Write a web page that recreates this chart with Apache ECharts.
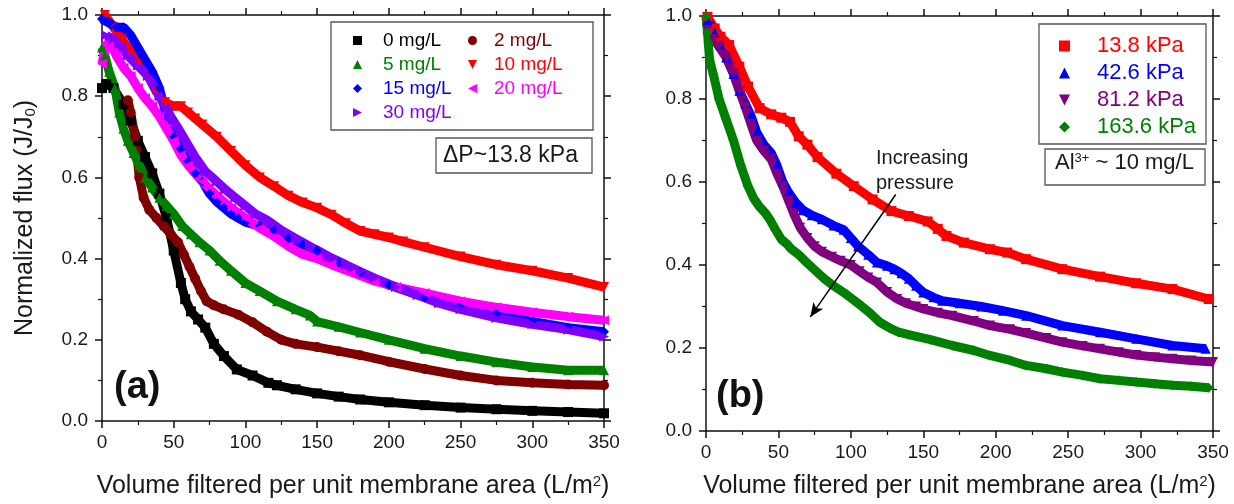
<!DOCTYPE html>
<html>
<head>
<meta charset="utf-8">
<script src="https://cdn.jsdelivr.net/npm/echarts@6/dist/echarts.min.js"></script>
<style>
  html, body { margin: 0; padding: 0; background: #ffffff; }
  #chart { width: 1234px; height: 504px; }
</style>
</head>
<body>
<div id="chart"></div>
<script>
// ---- Panel (a): flux decline at ΔP ~ 13.8 kPa for several Al3+ doses ----
const conc0_x  = [0, 3, 8, 15, 20, 25, 30, 35, 40, 45, 50, 55, 58, 62, 67, 72, 78, 85, 94, 105, 116, 122, 135, 150, 165, 180, 200, 225, 250, 275, 300, 325, 350];
const conc0_y  = [0.82, 0.83, 0.82, 0.78, 0.74, 0.69, 0.65, 0.61, 0.56, 0.5, 0.42, 0.34, 0.3, 0.27, 0.25, 0.23, 0.19, 0.16, 0.127, 0.112, 0.094, 0.088, 0.078, 0.068, 0.06, 0.053, 0.046, 0.039, 0.033, 0.029, 0.025, 0.022, 0.019];

const conc2_x  = [18, 20, 23, 26, 29, 33, 38, 43, 48, 53, 57, 61, 65, 69, 73, 78, 85, 95, 105, 115, 125, 135, 150, 165, 180, 200, 225, 250, 275, 300, 325, 350];
const conc2_y  = [0.79, 0.76, 0.7, 0.6, 0.55, 0.52, 0.5, 0.48, 0.46, 0.44, 0.41, 0.38, 0.35, 0.32, 0.295, 0.285, 0.275, 0.262, 0.243, 0.22, 0.2, 0.19, 0.182, 0.172, 0.162, 0.146, 0.128, 0.112, 0.1, 0.094, 0.09, 0.088];

const conc5_x  = [0, 2, 5, 9, 12, 15, 18, 22, 26, 30, 35, 40, 45, 50, 56, 62, 68, 75, 82, 90, 100, 110, 122, 135, 145, 150, 165, 180, 200, 225, 250, 275, 300, 325, 350];
const conc5_y  = [0.92, 0.9, 0.86, 0.82, 0.76, 0.72, 0.69, 0.66, 0.63, 0.6, 0.575, 0.55, 0.53, 0.51, 0.48, 0.46, 0.44, 0.42, 0.395, 0.37, 0.34, 0.32, 0.295, 0.275, 0.26, 0.245, 0.232, 0.218, 0.2, 0.178, 0.16, 0.145, 0.133, 0.125, 0.125];

const conc10_x = [2, 8, 14, 20, 26, 32, 38, 44, 50, 55, 60, 65, 70, 80, 90, 100, 110, 120, 130, 140, 150, 160, 170, 180, 190, 200, 210, 225, 250, 275, 300, 325, 350];
const conc10_y = [1.0, 0.97, 0.94, 0.91, 0.88, 0.85, 0.81, 0.785, 0.775, 0.775, 0.76, 0.745, 0.73, 0.7, 0.665, 0.63, 0.6, 0.578, 0.555, 0.538, 0.525, 0.508, 0.487, 0.468, 0.46, 0.452, 0.442, 0.428, 0.405, 0.385, 0.37, 0.352, 0.33];

const conc15_x = [0, 5, 10, 15, 20, 25, 30, 35, 40, 45, 50, 55, 60, 65, 70, 75, 80, 85, 90, 95, 100, 110, 120, 130, 140, 150, 165, 180, 200, 225, 250, 275, 300, 325, 350];
const conc15_y = [0.99, 0.98, 0.97, 0.97, 0.95, 0.92, 0.89, 0.86, 0.82, 0.75, 0.7, 0.67, 0.64, 0.61, 0.59, 0.56, 0.54, 0.525, 0.51, 0.5, 0.49, 0.48, 0.47, 0.45, 0.435, 0.42, 0.39, 0.365, 0.335, 0.305, 0.285, 0.265, 0.245, 0.23, 0.22];

const conc20_x = [0, 3, 6, 10, 15, 20, 25, 30, 35, 40, 45, 50, 55, 60, 70, 80, 90, 100, 110, 120, 130, 140, 150, 160, 175, 190, 205, 225, 250, 275, 300, 325, 350];
const conc20_y = [0.88, 0.93, 0.93, 0.9, 0.87, 0.85, 0.82, 0.795, 0.775, 0.75, 0.72, 0.69, 0.655, 0.63, 0.59, 0.555, 0.525, 0.5, 0.475, 0.455, 0.43, 0.41, 0.4, 0.385, 0.365, 0.345, 0.33, 0.315, 0.295, 0.28, 0.268, 0.257, 0.248];

const conc30_x = [3, 8, 12, 18, 25, 32, 40, 48, 55, 60, 65, 72, 80, 86, 93, 100, 107, 115, 125, 135, 145, 158, 170, 180, 190, 205, 220, 235, 250, 275, 300, 325, 350];
const conc30_y = [0.95, 0.94, 0.93, 0.9, 0.875, 0.85, 0.8, 0.75, 0.71, 0.68, 0.65, 0.615, 0.59, 0.57, 0.55, 0.53, 0.51, 0.495, 0.47, 0.45, 0.43, 0.405, 0.385, 0.368, 0.352, 0.33, 0.31, 0.29, 0.275, 0.254, 0.238, 0.225, 0.208];

// ---- Panel (b): flux decline at Al3+ ~ 10 mg/L for several pressures ----
const p138_x  = [1, 6, 10, 16, 23, 29, 37, 45, 52, 58, 64, 70, 77, 90, 102, 115, 128, 140, 153, 160, 166, 178, 196, 208, 221, 246, 272, 297, 322, 347];
const p138_y  = [0.998, 0.97, 0.95, 0.93, 0.878, 0.83, 0.778, 0.763, 0.755, 0.745, 0.71, 0.69, 0.66, 0.62, 0.59, 0.558, 0.53, 0.518, 0.505, 0.487, 0.47, 0.454, 0.438, 0.43, 0.414, 0.39, 0.372, 0.356, 0.342, 0.318];

const p426_x  = [1, 6, 10, 14, 19, 23, 27, 31, 35, 40, 45, 49, 53, 57, 62, 67, 73, 80, 88, 95, 100, 105, 112, 118, 125, 130, 135, 140, 145, 150, 157, 163, 175, 190, 205, 221, 246, 272, 297, 322, 345];
const p426_y  = [0.99, 0.96, 0.93, 0.9, 0.86, 0.82, 0.79, 0.76, 0.72, 0.69, 0.67, 0.64, 0.6, 0.575, 0.55, 0.532, 0.52, 0.51, 0.495, 0.485, 0.465, 0.445, 0.425, 0.406, 0.398, 0.39, 0.38, 0.367, 0.35, 0.334, 0.322, 0.314, 0.308, 0.3, 0.29, 0.278, 0.254, 0.238, 0.222, 0.206, 0.198];

const p812_x  = [1, 5, 9, 14, 19, 23, 27, 31, 35, 40, 45, 49, 53, 57, 61, 65, 70, 75, 80, 87, 93, 100, 106, 112, 118, 125, 132, 138, 145, 150, 160, 170, 185, 196, 210, 221, 235, 246, 260, 272, 285, 297, 310, 322, 335, 350];
const p812_y  = [0.966, 0.945, 0.926, 0.9, 0.862, 0.82, 0.782, 0.74, 0.7, 0.675, 0.655, 0.62, 0.59, 0.555, 0.52, 0.49, 0.465, 0.445, 0.432, 0.42, 0.41, 0.4, 0.385, 0.37, 0.358, 0.335, 0.318, 0.308, 0.3, 0.294, 0.285, 0.278, 0.265, 0.254, 0.245, 0.236, 0.224, 0.214, 0.205, 0.198, 0.19, 0.183, 0.178, 0.174, 0.17, 0.166];

const p1636_x = [0, 1, 2.5, 5, 9, 14, 19, 24, 29, 33, 37, 41, 44, 48, 52, 56, 59, 64, 69.5, 76, 82, 88, 95, 101, 107, 113, 120, 127, 133, 140, 145, 155, 170, 185, 196, 210, 221, 235, 246, 260, 272, 285, 297, 310, 322, 335, 347];
const p1636_y = [0.998, 0.96, 0.894, 0.86, 0.8, 0.75, 0.7, 0.64, 0.59, 0.56, 0.54, 0.525, 0.51, 0.485, 0.462, 0.45, 0.438, 0.425, 0.406, 0.385, 0.366, 0.35, 0.334, 0.318, 0.302, 0.285, 0.262, 0.248, 0.238, 0.232, 0.228, 0.22, 0.206, 0.194, 0.182, 0.17, 0.158, 0.15, 0.142, 0.134, 0.126, 0.122, 0.118, 0.114, 0.11, 0.108, 0.104];

// axis ranges / ticks
const X_MIN = 0, X_MAX = 350, X_STEP = 50;
const Y_MIN = 0, Y_MAX = 1.0, Y_STEP = 0.2;

// arrow for "Increasing pressure" (data coords of panel b)
const arrowFrom = [131, 0.57];
const arrowTo = [72, 0.275];

const FONT = '"Liberation Sans", Arial, sans-serif';
const INK = '#1a1a1a';

const zip = (xs, ys) => xs.map((x, i) => [x, ys[i]]);

const DOWN = 'path://M0,0L10,0L5,10Z';
const LEFT = 'path://M10,0L10,10L0,5Z';
const RIGHT = 'path://M0,0L0,10L10,5Z';

function axisBase(extra) {
  return Object.assign({
    type: 'value',
    axisLine: { show: true, onZero: false, lineStyle: { color: '#111', width: 1.5 } },
    axisTick: { show: true, inside: false, length: 7, lineStyle: { color: '#111', width: 1.5 } },
    minorTick: { show: true, splitNumber: 2, length: 4, lineStyle: { color: '#111', width: 1.2 } },
    splitLine: { show: false },
    minorSplitLine: { show: false },
    axisLabel: { show: true, fontSize: 19, color: INK, fontFamily: FONT },
  }, extra);
}

function xAxis(grid, pos, labels, nameGap) {
  const a = axisBase({
    gridIndex: grid, position: pos, min: X_MIN, max: X_MAX, interval: X_STEP,
  });
  a.axisLabel = Object.assign({}, a.axisLabel, { show: labels, margin: 12 });
  if (labels) {
    a.name = '{t|Volume filtered per unit membrane area (L/m}{sup|2}{t|)}';
    a.nameLocation = 'middle';
    a.nameGap = nameGap;
    a.nameTextStyle = {
      rich: {
        t: { fontSize: 25, color: INK, fontFamily: FONT },
        sup: { fontSize: 15, color: INK, fontFamily: FONT, verticalAlign: 'top' }
      }
    };
  }
  return a;
}

function yAxis(grid, pos, labels, withName) {
  const a = axisBase({
    gridIndex: grid, position: pos, min: Y_MIN, max: Y_MAX, interval: Y_STEP,
  });
  a.axisLabel = Object.assign({}, a.axisLabel, {
    show: labels, margin: 14, formatter: v => v.toFixed(1)
  });
  if (withName) {
    a.name = '{t|Normalized flux (J/J}{sub|0}{t|)}';
    a.nameLocation = 'middle';
    a.nameGap = 64;
    a.nameTextStyle = {
      rich: {
        t: { fontSize: 25, color: INK, fontFamily: FONT },
        sub: { fontSize: 15, color: INK, fontFamily: FONT, verticalAlign: 'bottom' }
      }
    };
  }
  return a;
}

function scatterLine(name, xs, ys, color, symbol, rotate, axis) {
  return {
    name, type: 'line',
    xAxisIndex: axis, yAxisIndex: axis,
    data: zip(xs, ys),
    symbol, symbolRotate: rotate || 0, symbolSize: 10, showSymbol: true,
    lineStyle: { color, width: 9 },
    itemStyle: { color },
    color,
    smooth: false,
    animation: false,
    silent: true,
  };
}

const legendText = (size, pad) => ({ fontSize: size, fontFamily: FONT, lineHeight: size, padding: [0, 0, 0, pad] });
const item = (name, icon, color) => ({ name, icon, textStyle: { color } });

const series = [
  scatterLine('0 mg/L', conc0_x, conc0_y, '#000000', 'rect', 0, 0),
  scatterLine('2 mg/L', conc2_x, conc2_y, '#800000', 'circle', 0, 0),
  scatterLine('5 mg/L', conc5_x, conc5_y, '#008000', 'triangle', 0, 0),
  scatterLine('10 mg/L', conc10_x, conc10_y, '#ff0000', 'triangle', 180, 0),
  scatterLine('15 mg/L', conc15_x, conc15_y, '#0000ff', 'diamond', 0, 0),
  scatterLine('20 mg/L', conc20_x, conc20_y, '#ff00ff', 'triangle', 90, 0),
  scatterLine('30 mg/L', conc30_x, conc30_y, '#8000ff', 'triangle', -90, 0),
  scatterLine('13.8 kPa', p138_x, p138_y, '#ff0000', 'rect', 0, 2),
  scatterLine('42.6 kPa', p426_x, p426_y, '#0000ff', 'triangle', 0, 2),
  scatterLine('81.2 kPa', p812_x, p812_y, '#800080', 'triangle', 180, 2),
  scatterLine('163.6 kPa', p1636_x, p1636_y, '#008000', 'diamond', 0, 2),
];

// arrow drawn on the last panel-(b) series
series[series.length - 1].markLine = {
  silent: true,
  symbol: ['none', 'arrow'],
  symbolSize: [9, 14],
  label: { show: false },
  lineStyle: { color: '#000', width: 1.5, type: 'solid' },
  data: [[{ coord: arrowFrom }, { coord: arrowTo }]],
  animation: false,
};

const boxStyle = { fill: 'transparent', stroke: '#555', lineWidth: 1.3 };

const option = {
  backgroundColor: '#ffffff',
  animation: false,
  grid: [
    { left: 102, top: 15, width: 502, height: 408 },
    { left: 706, top: 16, width: 507, height: 417 },
  ],
  xAxis: [
    xAxis(0, 'bottom', true, 53),
    xAxis(0, 'top', false, 0),
    xAxis(1, 'bottom', true, 43),
    xAxis(1, 'top', false, 0),
  ],
  yAxis: [
    yAxis(0, 'left', true, true),
    yAxis(0, 'right', false, false),
    yAxis(1, 'left', true, false),
    yAxis(1, 'right', false, false),
  ],
  legend: [
    {
      left: 353, top: 31, orient: 'vertical', padding: 0, itemGap: 5,
      itemWidth: 9, itemHeight: 9, selectedMode: false,
      textStyle: legendText(19, 16),
      data: [
        item('0 mg/L', 'rect', '#000000'),
        item('5 mg/L', 'triangle', '#008000'),
        item('15 mg/L', 'diamond', '#0000ff'),
        item('30 mg/L', RIGHT, '#8000ff'),
      ],
    },
    {
      left: 468, top: 31, orient: 'vertical', padding: 0, itemGap: 5,
      itemWidth: 9, itemHeight: 9, selectedMode: false,
      textStyle: legendText(19, 12),
      data: [
        item('2 mg/L', 'circle', '#800000'),
        item('10 mg/L', DOWN, '#ff0000'),
        item('20 mg/L', LEFT, '#ff00ff'),
      ],
    },
    {
      left: 1059, top: 35, orient: 'vertical', padding: 0, itemGap: 5,
      itemWidth: 11, itemHeight: 11, selectedMode: false,
      textStyle: legendText(22, 22),
      data: [
        item('13.8 kPa', 'rect', '#ff0000'),
        item('42.6 kPa', 'triangle', '#0000ff'),
        item('81.2 kPa', DOWN, '#800080'),
        item('163.6 kPa', 'diamond', '#008000'),
      ],
    },
  ],
  series,
  graphic: [
    // legend frames and condition boxes
    { type: 'rect', shape: { x: 331, y: 22, width: 262, height: 108 }, style: boxStyle, z: 10 },
    { type: 'rect', shape: { x: 436, y: 138, width: 156, height: 35 }, style: boxStyle, z: 10 },
    { type: 'rect', shape: { x: 1039, y: 24, width: 167, height: 120 }, style: boxStyle, z: 10 },
    { type: 'rect', shape: { x: 1045, y: 149, width: 160, height: 36 }, style: boxStyle, z: 10 },
    {
      type: 'text', left: 443, top: 144, z: 11,
      style: { text: 'ΔP~13.8 kPa', fontSize: 23, fontFamily: FONT, fill: INK }
    },
    {
      type: 'text', left: 1055, top: 152, z: 11,
      style: {
        text: '{t|Al}{s|3+}{t| ~ 10 mg/L}', fill: INK,
        rich: {
          t: { fontSize: 22, fontFamily: FONT, fill: INK },
          s: { fontSize: 13, fontFamily: FONT, fill: INK, verticalAlign: 'top' }
        }
      }
    },
    {
      type: 'text', left: 876, top: 146, z: 11,
      style: { text: 'Increasing\npressure', fontSize: 20, lineHeight: 25, fontFamily: FONT, fill: INK }
    },
    {
      type: 'text', left: 114, top: 369, z: 11,
      style: { text: '(a)', fontSize: 38, fontWeight: 'bold', fontFamily: FONT, fill: '#111' }
    },
    {
      type: 'text', left: 716, top: 378, z: 11,
      style: { text: '(b)', fontSize: 38, fontWeight: 'bold', fontFamily: FONT, fill: '#111' }
    },
  ],
};

const chart = echarts.init(document.getElementById('chart'), null, { renderer: 'canvas' });
chart.setOption(option);
</script>
</body>
</html>
